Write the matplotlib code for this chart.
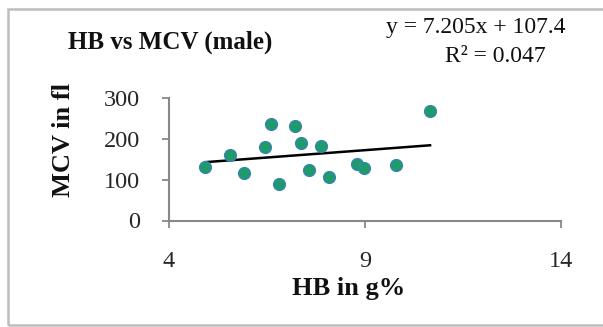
import matplotlib
matplotlib.use("Agg")
import matplotlib.pyplot as plt
from matplotlib.patches import Rectangle
import numpy as np

# HB (g%) and MCV (fl) values
hb = [4.92, 5.56, 5.91, 6.44, 6.59, 6.80, 7.21, 7.36, 7.58, 7.89, 8.09, 8.79, 8.98, 9.78, 10.66]
mcv = [130, 160, 116, 181, 237, 90, 232, 189, 124, 183, 106, 138, 128, 137, 268]

# linear trendline from the chart label
slope = 7.205
intercept = 107.4

x_ticks = [4, 9, 14]
y_ticks = [0, 100, 200, 300]

plt.rcParams["font.family"] = ["Liberation Serif", "DejaVu Serif"]

W, H = 603, 327
fig = plt.figure(figsize=(W / 100, H / 100), dpi=100)
ax = fig.add_axes([169 / W, 1 - 220.5 / H, (561 - 169) / W, (220.5 - 98) / H])

ax.scatter(hb, mcv, s=75, color="#1f9a6a", edgecolors="#3a7fc0", linewidths=0.8, zorder=3)

xs = np.array([min(hb), max(hb)])
ax.plot(xs, slope * xs + intercept, color="black", linewidth=1.8, zorder=2)

ax.set_xlim(4, 14)
ax.set_ylim(0, 300)
ax.set_xticks(x_ticks)
ax.set_yticks(y_ticks)
ax.tick_params(axis="both", direction="out", length=5, width=1.3, color="#888888",
               labelsize=17.5, labelcolor="#262626")
ax.tick_params(axis="x", pad=17)
ax.tick_params(axis="y", pad=16)
for s in ["top", "right"]:
    ax.spines[s].set_visible(False)
for s in ["left", "bottom"]:
    ax.spines[s].set_color("#888888")
    ax.spines[s].set_linewidth(1.5)
ax.patch.set_visible(False)

fig.text(349 / W, 1 - 289 / H, "HB in g%", fontsize=19, fontweight="bold",
         ha="center", va="center", color="#111111")
fig.text(63 / W, 1 - 140 / H, "MCV in fl", fontsize=19, fontweight="bold",
         rotation=90, ha="center", va="center", color="#111111")

fig.text(170 / W, 1 - 42 / H, "HB vs MCV (male)", fontsize=18, fontweight="bold",
         ha="center", va="center", color="#111111")
fig.text(476 / W, 1 - 27 / H, "y = 7.205x + 107.4", fontsize=17,
         ha="center", va="center", color="#111111")
fig.text(495 / W, 1 - 57 / H, "R² = 0.047", fontsize=17,
         ha="center", va="center", color="#111111")

# outer chart frame
fig.patches.append(Rectangle((8 / W, 1 - 325 / H), 1.0, (325 - 9) / H,
                             transform=fig.transFigure, fill=False,
                             edgecolor="#bdbdbd", linewidth=1.8, clip_on=False))

fig.savefig("out.png", dpi=100)
